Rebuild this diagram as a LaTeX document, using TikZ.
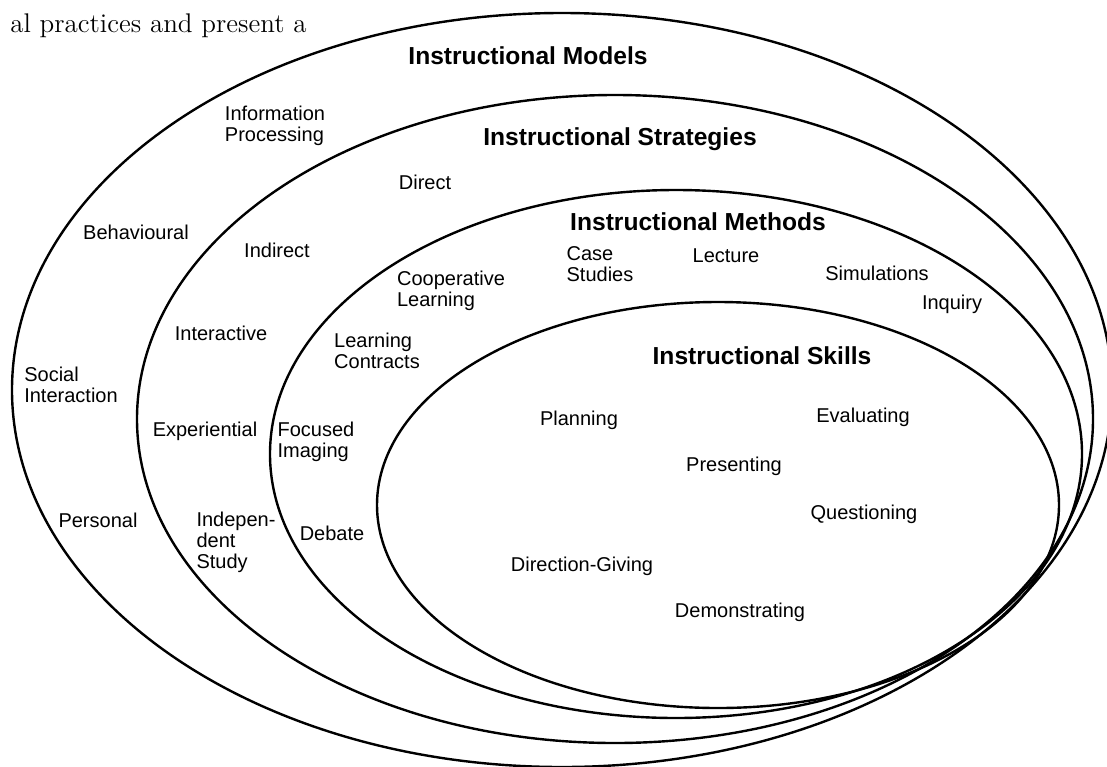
\documentclass[tikz,border=0pt]{standalone}
\usepackage{fontspec}
\setsansfont{Liberation Sans}
\tikzset{
  ring/.style={line width=1.2pt, black},
  title/.style={font=\sffamily\bfseries\fontsize{12.3}{14}\selectfont, inner sep=0pt},
  item/.style={font=\sffamily\fontsize{10}{10.5}\selectfont, align=left, inner sep=0pt},
  bodytext/.style={font=\fontsize{13.5}{16}\selectfont, inner sep=0pt, anchor=base east},
}

\begin{document}
\begin{tikzpicture}[x=0.5pt, y=-0.5pt]
    \useasboundingbox (0,0) rectangle (1107,766);

    % Running text of the page
    \node[bodytext] (pagetext) at (307,32) {al practices and present a};

    % Rings (outer to inner)
    \coordinate (cmodels) at (562,390);
    \coordinate (cstrategies) at (615,419);
    \coordinate (cmethods) at (676,454);
    \coordinate (cskills) at (718,505);
    \draw[ring] (cmodels) ellipse [x radius=550, y radius=377];
    \draw[ring] (cstrategies) ellipse [x radius=478, y radius=324];
    \draw[ring] (cmethods) ellipse [x radius=406, y radius=264];
    \draw[ring] (cskills) ellipse [x radius=341, y radius=203];

    % Models
    \node[title] (models) at (528,56) {Instructional Models};
    \node[item] (infoproc) at (275,126) {Information\\Processing};
    \node[item] (behavioural) at (136,232) {Behavioural};
    \node[item] (social) at (71,385) {Social\\Interaction};
    \node[item] (personal) at (98,520) {Personal};

    % Strategies
    \node[title] (strategies) at (620,139) {Instructional Strategies};
    \node[item] (direct) at (425,182) {Direct};
    \node[item] (indirect) at (277,250) {Indirect};
    \node[item] (interactive) at (221,333) {Interactive};
    \node[item] (experiential) at (205,431) {Experiential};
    \node[item] (independent) at (236,542) {Indepen-\\dent\\Study};

    % Methods
    \node[title] (methods) at (698,222) {Instructional Methods};
    \node[item] (casestudies) at (600,264) {Case\\Studies};
    \node[item] (lecture) at (726,256) {Lecture};
    \node[item] (simulations) at (877,273) {Simulations};
    \node[item] (inquiry) at (952,304) {Inquiry};
    \node[item] (cooperative) at (451,291) {Cooperative\\Learning};
    \node[item] (contracts) at (377,351) {Learning\\Contracts};
    \node[item] (imaging) at (316,442) {Focused\\Imaging};
    \node[item] (debate) at (332,533) {Debate};

    % Skills
    \node[title] (skills) at (762,356) {Instructional Skills};
    \node[item] (planning) at (579,420) {Planning};
    \node[item] (evaluating) at (863,417) {Evaluating};
    \node[item] (presenting) at (734,466) {Presenting};
    \node[item] (questioning) at (864,514) {Questioning};
    \node[item] (direction) at (582,566) {Direction-Giving};
    \node[item] (demonstrating) at (740,612) {Demonstrating};
\end{tikzpicture}
\end{document}
